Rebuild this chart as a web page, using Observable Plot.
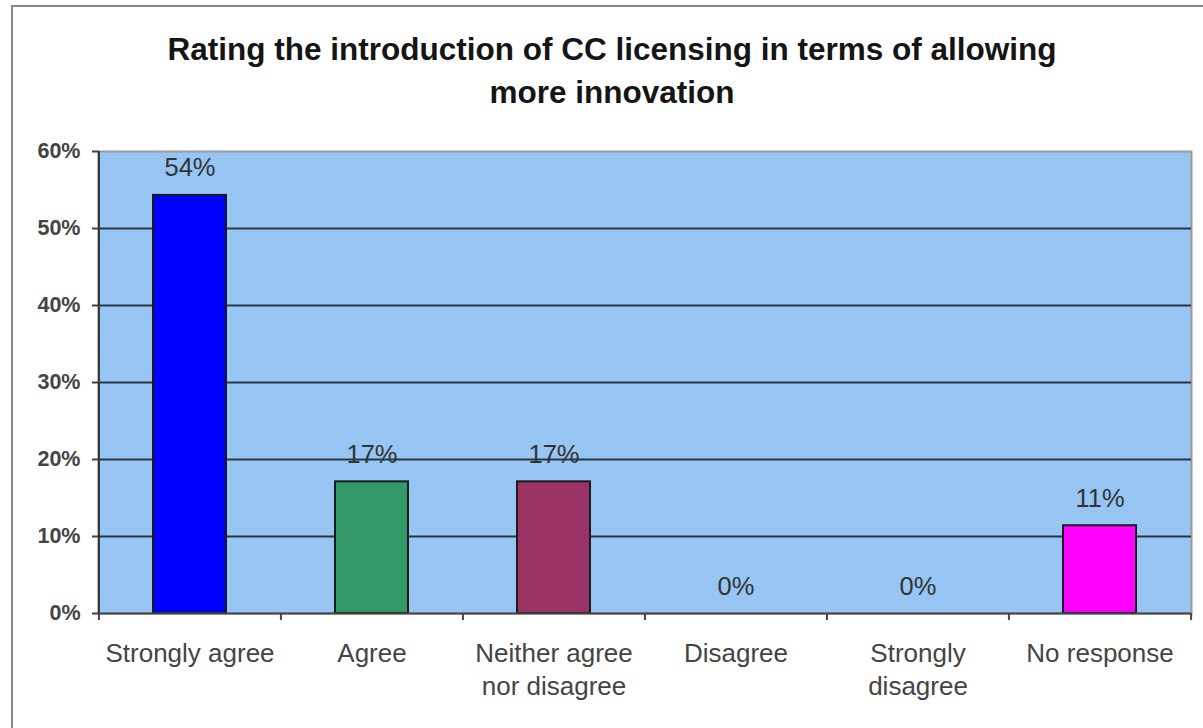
<!DOCTYPE html>
<html>
<head>
<meta charset="utf-8">
<script src="https://cdn.jsdelivr.net/npm/d3@7"></script>
<script src="https://cdn.jsdelivr.net/npm/@observablehq/plot@0.6"></script>
<style>
  body { margin: 0; background: #fff; font-family: "Liberation Sans", Arial, sans-serif; }
  #wrap { position: relative; width: 1203px; height: 728px; overflow: hidden; }
  #border { position: absolute; left: 11px; top: 5px; width: 1300px; height: 900px; border: 2px solid #8a8a8a; box-sizing: border-box; }
  #title { position: absolute; left: 12px; width: 1200px; top: 27.5px; text-align: center; font-weight: bold; font-size: 31.5px; line-height: 43px; color: #151515; }
  #chart { position: absolute; left: 0; top: 0; }
</style>
</head>
<body>
<div id="wrap">
  <div id="border"></div>
  <div id="chart"></div>
  <div id="title">Rating the introduction of CC licensing in terms of allowing<br>more innovation</div>
</div>
<script>
const categories = ["Strongly agree", "Agree", "Neither agree nor disagree", "Disagree", "Strongly disagree", "No response"];
const categoryLabels = ["Strongly agree", "Agree", "Neither agree\nnor disagree", "Disagree", "Strongly\ndisagree", "No response"];
const values = [0.543, 0.171, 0.171, 0, 0, 0.114];
const colors = ["#0000FF", "#339966", "#993366", "#FFFFCC", "#CCFFFF", "#FF00FF"];
const yTicks = [0, 0.1, 0.2, 0.3, 0.4, 0.5, 0.6];

const data = categories.map((c, i) => ({cat: c, value: values[i], color: colors[i]}));
const labelOf = new Map(categories.map((c, i) => [c, categoryLabels[i]]));

const W = 1203, H = 728, ML = 98, MR = 12, MT = 151, MB = 115;
const step = (W - ML - MR) / categories.length;
const pct = d3.format(".0%");

const chart = Plot.plot({
  width: W,
  height: H,
  marginLeft: ML,
  marginRight: MR,
  marginTop: MT,
  marginBottom: MB,
  style: {fontFamily: "Liberation Sans, Arial, sans-serif", background: "transparent", overflow: "visible"},
  x: {domain: categories, paddingInner: 0.6, paddingOuter: 0.3, label: null},
  y: {domain: [0, 0.6], label: null},
  color: {type: "identity"},
  marks: [
    Plot.frame({fill: "#97C6F4", stroke: "#9a9a9a", strokeWidth: 2}),
    Plot.ruleY(yTicks.filter(v => v > 0 && v < 0.6), {stroke: "#2b3540", strokeWidth: 2}),
    Plot.barY(data.filter(d => d.value > 0), {x: "cat", y: "value", fill: "color", stroke: "#1a1a1a", strokeWidth: 2}),
    Plot.text(data, {x: "cat", y: "value", text: d => pct(d.value), dy: -19, lineAnchor: "bottom", fontSize: 25.5, fill: "#333"}),
    Plot.ruleY([0], {stroke: "#444", strokeWidth: 2}),
    Plot.ruleX([categories[0]], {dx: -step / 2, stroke: "#333", strokeWidth: 2}),
    Plot.axisY({ticks: yTicks, tickFormat: pct, tickSize: 6, tickPadding: 12, fontSize: 21.5, fontWeight: "bold", color: "#444", strokeWidth: 2, label: null}),
    Plot.axisX({ticks: categories, tickSize: 7, tickFormat: () => "", dx: -step / 2, color: "#444", strokeWidth: 2, label: null}),
    Plot.axisX({ticks: [categories[categories.length - 1]], tickSize: 7, tickFormat: () => "", dx: step / 2, color: "#444", strokeWidth: 2, label: null}),
    Plot.axisX({ticks: categories, tickSize: 0, tickPadding: 25, tickFormat: d => labelOf.get(d), fontSize: 26, lineHeight: 1.27, color: "#444", label: null})
  ]
});
document.getElementById("chart").appendChild(chart);
</script>
</body>
</html>
